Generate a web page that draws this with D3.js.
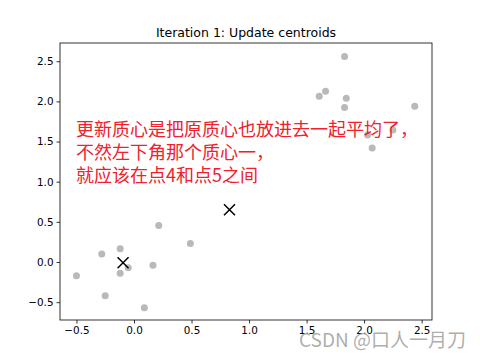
<!DOCTYPE html>
<html>
<head>
<meta charset="utf-8">
<script src="https://cdn.jsdelivr.net/npm/d3@7"></script>
<style>
  body { margin: 0; background: #fff; }
  svg { display: block; }
</style>
</head>
<body>
<svg id="chart"></svg>
<script>
// data points (x, y)
const POINTS_X = [-0.50, -0.28, -0.12, -0.12, -0.05, -0.25, 0.09, 0.165, 0.215, 0.49,
                  1.83, 1.61, 1.665, 1.845, 1.83, 2.44, 2.03, 2.25, 2.07];
const POINTS_Y = [-0.17, 0.10, 0.165, -0.14, -0.07, -0.42, -0.57, -0.04, 0.455, 0.23,
                  2.56, 2.065, 2.125, 2.04, 1.925, 1.94, 1.58, 1.645, 1.42];
const CENTROIDS_X = [-0.095, 0.83];
const CENTROIDS_Y = [-0.01, 0.65];
const X_TICKS = [-0.5, 0.0, 0.5, 1.0, 1.5, 2.0, 2.5];
const Y_TICKS = [-0.5, 0.0, 0.5, 1.0, 1.5, 2.0, 2.5];
const TITLE = 'Iteration 1: Update centroids';
const NOTE = ['更新质心是把原质心也放进去一起平均了，', '不然左下角那个质心一，', '就应该在点4和点5之间'];
const WATERMARK = 'CSDN @口人一月刀';

const W = 480, H = 360;
const margin = {top: 43, right: 48, bottom: 40, left: 60};

const svg = d3.select('#chart').attr('width', W).attr('height', H);

const x = d3.scaleLinear([-0.643, 2.59], [margin.left, W - margin.right]);
const y = d3.scaleLinear([-0.722, 2.727], [H - margin.bottom, margin.top]);

const fmt = d3.format('.1f');
const minus = d => fmt(d).replace('-', '\u2212');

svg.append('g')
  .attr('transform', `translate(0, ${H - margin.bottom})`)
  .call(d3.axisBottom(x).tickValues(X_TICKS).tickFormat(minus).tickSize(3.5).tickPadding(3))
  .call(g => g.select('.domain').remove());

svg.append('g')
  .attr('transform', `translate(${margin.left}, 0)`)
  .call(d3.axisLeft(y).tickValues(Y_TICKS).tickFormat(minus).tickSize(3.5).tickPadding(3))
  .call(g => g.select('.domain').remove());

svg.selectAll('.tick text')
  .attr('font-family', 'DejaVu Sans')
  .attr('font-size', 10.4)
  .attr('fill', '#000');
svg.selectAll('.tick line').attr('stroke', '#000').attr('stroke-width', 0.8);

// frame
svg.append('rect')
  .attr('x', margin.left)
  .attr('y', margin.top)
  .attr('width', W - margin.left - margin.right)
  .attr('height', H - margin.top - margin.bottom)
  .attr('fill', 'none')
  .attr('stroke', '#000')
  .attr('stroke-width', 0.8);

svg.append('text')
  .text(TITLE)
  .attr('x', (margin.left + W - margin.right) / 2)
  .attr('y', 37)
  .attr('text-anchor', 'middle')
  .attr('font-family', 'DejaVu Sans')
  .attr('font-size', 12.5)
  .attr('fill', '#000');

// points
svg.append('g')
  .selectAll('circle')
  .data(d3.zip(POINTS_X, POINTS_Y))
  .join('circle')
    .attr('cx', d => x(d[0]))
    .attr('cy', d => y(d[1]))
    .attr('r', 3.5)
    .attr('fill', '#808080')
    .attr('fill-opacity', 0.55);

// centroids
const s = 5.5;
svg.append('g')
  .selectAll('path')
  .data(d3.zip(CENTROIDS_X, CENTROIDS_Y))
  .join('path')
    .attr('d', d => {
      const cx = x(d[0]), cy = y(d[1]);
      return `M${cx - s},${cy - s}L${cx + s},${cy + s}M${cx - s},${cy + s}L${cx + s},${cy - s}`;
    })
    .attr('stroke', '#000')
    .attr('stroke-width', 1.5)
    .attr('fill', 'none');

// red annotation
svg.append('g')
  .selectAll('text')
  .data(NOTE)
  .join('text')
    .text(d => d)
    .attr('x', 76)
    .attr('y', (d, i) => 136 + i * 23)
    .attr('font-family', 'Noto Sans CJK SC')
    .attr('font-size', 18)
    .attr('fill', '#f0202c');

svg.append('text')
  .text(WATERMARK)
  .attr('x', 466)
  .attr('y', 347)
  .attr('text-anchor', 'end')
  .attr('font-family', 'Noto Sans CJK SC')
  .attr('font-size', 19)
  .attr('fill', '#a0a0a0')
  .attr('fill-opacity', 0.85);
</script>
</body>
</html>
